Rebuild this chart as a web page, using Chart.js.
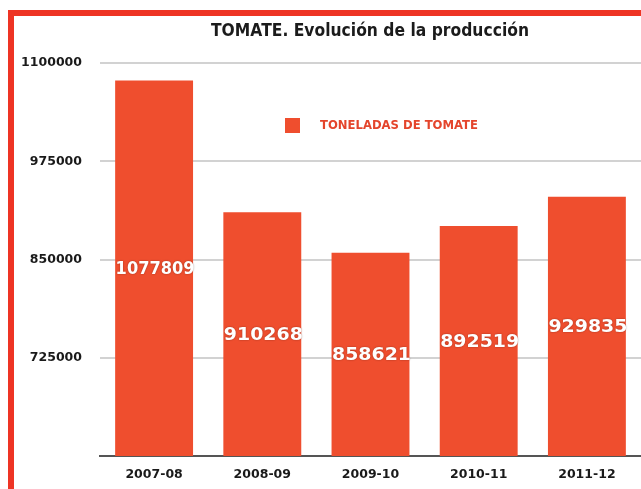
<!DOCTYPE html>
<html>
<head>
<meta charset="utf-8">
<script src="https://cdn.jsdelivr.net/npm/chart.js@4"></script>
<style>
html,body{margin:0;padding:0;background:#fff;overflow:hidden;}
#wrap{position:relative;width:641px;height:489px;}
#c{position:absolute;left:0;top:0;}
#frame{position:absolute;left:8px;top:10px;right:-10px;bottom:-10px;border-top:6px solid #ee3424;border-left:6px solid #ee3424;pointer-events:none;}
</style>
</head>
<body>
<div id="wrap">
<canvas id="c" width="641" height="489"></canvas>
<div id="frame"></div>
</div>
<script>
const categories = ["2007-08","2008-09","2009-10","2010-11","2011-12"];
const toneladas = [1077809, 910268, 858621, 892519, 929835];
const seriesName = "TONELADAS DE TOMATE";
const chartTitle = "TOMATE. Evolución de la producción";
const yTicks = [725000, 850000, 975000, 1100000];

const BAR = '#ef4e2e';
const FONT = '"DejaVu Sans", sans-serif';

function drawScaled(ctx, text, x, y, font, color, targetW, align) {
  ctx.save();
  ctx.font = font;
  ctx.fillStyle = color;
  ctx.textBaseline = 'middle';
  const w = ctx.measureText(text).width;
  const s = targetW ? targetW / w : 1;
  ctx.translate(x, y);
  ctx.scale(s, 1);
  ctx.textAlign = align || 'center';
  ctx.fillText(text, 0, 0);
  ctx.restore();
}

const decor = {
  id: 'decor',
  afterDraw(chart) {
    const ctx = chart.ctx;
    drawScaled(ctx, chartTitle, 370, 31, 'bold 18px ' + FONT, '#1b1b1b', 318, 'center');
    ctx.save();
    ctx.fillStyle = BAR;
    ctx.fillRect(285, 118, 15, 15);
    ctx.restore();
    drawScaled(ctx, seriesName, 320, 126, 'bold 11.5px ' + FONT, '#e4452c', 158, 'left');
    const meta = chart.getDatasetMeta(0);
    const yScale = chart.scales.y;
    const basePx = yScale.getPixelForValue(yScale.min);
    meta.data.forEach((bar, i) => {
      const p = bar.getProps(['x', 'y'], true);
      const cy = (p.y + basePx) / 2;
      ctx.save();
      ctx.shadowColor = 'rgba(0,0,0,0.35)';
      ctx.shadowBlur = 2;
      drawScaled(ctx, String(toneladas[i]), p.x + 1, cy + 1, 'bold 18px ' + FONT, '#ffffff', 79, 'center');
      ctx.restore();
    });
  }
};

new Chart(document.getElementById('c'), {
  type: 'bar',
  data: {
    labels: categories,
    datasets: [{
      label: seriesName,
      data: toneladas,
      backgroundColor: BAR,
      borderWidth: 0,
      barPercentage: 0.72,
      categoryPercentage: 1
    }]
  },
  options: {
    responsive: false,
    animation: false,
    layout: { padding: { top: 63, right: 0, left: 0, bottom: 0 } },
    plugins: { legend: { display: false }, title: { display: false }, tooltip: { enabled: false } },
    scales: {
      x: {
        grid: { display: false, drawTicks: false },
        border: { display: true, color: '#555555', width: 2 },
        ticks: { color: '#1a1a1a', font: { family: FONT, weight: 'bold', size: 12.5 }, padding: 11 },
        afterFit(s) { s.height = 33; }
      },
      y: {
        min: 600000,
        max: 1100000,
        afterBuildTicks(s) { s.ticks = yTicks.map(v => ({ value: v })); },
        grid: { color: '#d2d2d2', lineWidth: 2, drawTicks: false },
        border: { display: false },
        ticks: {
          color: '#1a1a1a',
          font: { family: FONT, weight: 'bold', size: 12.5 },
          padding: 18,
          callback: (v) => String(v)
        },
        afterFit(s) { s.width = 100; }
      }
    }
  },
  plugins: [decor]
});
</script>
</body>
</html>
